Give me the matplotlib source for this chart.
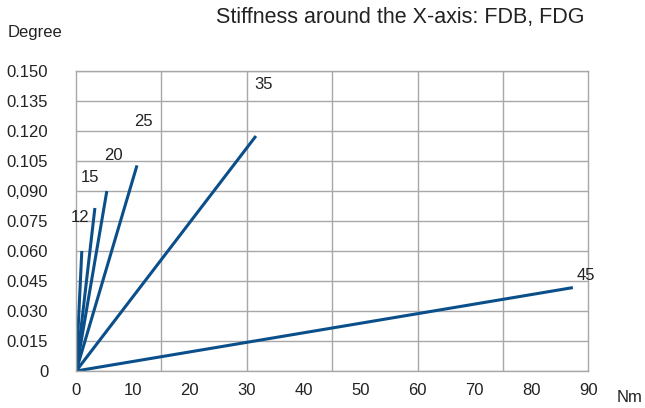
import matplotlib
matplotlib.use("Agg")
import matplotlib.pyplot as plt
from matplotlib.ticker import FixedLocator

plt.rcParams['font.family'] = ['Liberation Sans', 'DejaVu Sans']

# end points of each stiffness line (Nm, degree)
sizes = ['12', '15', '20', '25', '35', '45']
torque_end = [1.0, 3.3, 5.4, 10.7, 31.6, 87.3]
angle_end = [0.060, 0.0815, 0.090, 0.1028, 0.1175, 0.0417]

# label positions (Nm, degree)
label_x = [0.7, 2.5, 6.5, 11.8, 32.9, 89.5]
label_y = [0.0765, 0.0965, 0.1075, 0.1245, 0.143, 0.0475]

y_ticks = [0, 0.015, 0.030, 0.045, 0.060, 0.075, 0.090, 0.105, 0.120, 0.135, 0.150]
y_labels = ['0', '0.015', '0.030', '0.045', '0.060', '0.075', '0,090',
            '0.105', '0.120', '0.135', '0.150']
x_ticks = list(range(0, 91, 10))
x_grid = [15, 30, 45, 60, 75]

line_color = '#0b4f8a'
grid_color = '#a8a8a8'
text_color = '#222222'

fig = plt.figure(figsize=(6.45, 4.08), dpi=100)
ax = fig.add_axes([0.118, 0.0907, 0.794, 0.7353])

for x1, y1 in zip(torque_end, angle_end):
    ax.plot([0, x1], [0, y1], color=line_color, lw=2.2, solid_capstyle='butt')

for s, lx, ly in zip(sizes, label_x, label_y):
    ax.text(lx, ly, s, fontsize=12, color=text_color, ha='center', va='center')

ax.set_xlim(0, 90)
ax.set_ylim(0, 0.150)
ax.set_xticks(x_ticks)
ax.yaxis.set_major_locator(FixedLocator(y_ticks))
ax.set_yticklabels(y_labels)

for gx in x_grid:
    ax.axvline(gx, color=grid_color, lw=1.0, zorder=0)
ax.grid(True, which='major', axis='y', color=grid_color, lw=1.0)
ax.set_axisbelow(True)

ax.tick_params(axis='both', which='both', length=0, labelsize=12, colors=text_color)
ax.tick_params(axis='y', pad=20)
ax.tick_params(axis='x', pad=9)
for sp in ax.spines.values():
    sp.set_color(grid_color)
    sp.set_linewidth(1.0)

fig.text(8 / 645, 1 - 33 / 408, 'Degree', fontsize=12, color=text_color, va='center')
fig.text(630 / 645, 1 - 397 / 408, 'Nm', fontsize=12, color=text_color, va='center', ha='center')
fig.text(400 / 645, 1 - 18 / 408, 'Stiffness around the X-axis: FDB, FDG',
         fontsize=15.5, color=text_color, ha='center', va='center')

fig.savefig('out.png', dpi=100)
